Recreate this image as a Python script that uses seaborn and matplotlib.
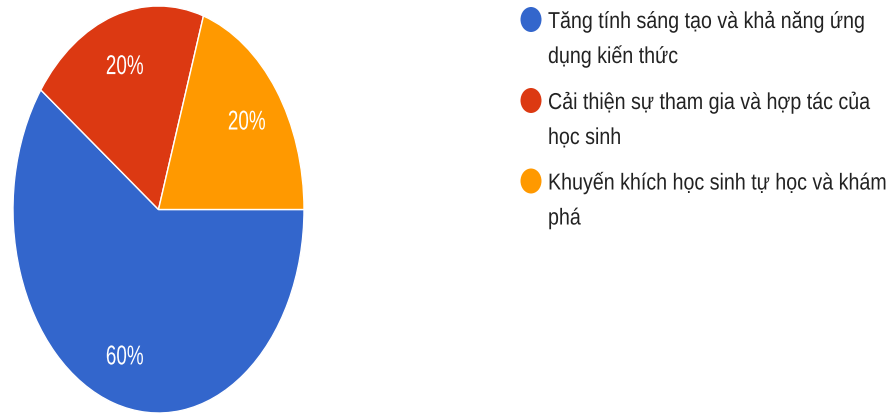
import matplotlib
matplotlib.use("Agg")
import matplotlib.pyplot as plt
import seaborn as sns
from matplotlib.patches import Ellipse
from matplotlib.patheffects import AbstractPathEffect
from matplotlib.transforms import Affine2D

# ---- data ----
categories = [
    "Tăng tính sáng tạo và khả năng ứng dụng kiến thức",
    "Cải thiện sự tham gia và hợp tác của học sinh",
    "Khuyến khích học sinh tự học và khám phá",
]
legend_lines = [
    ["Tăng tính sáng tạo và khả năng ứng", "dụng kiến thức"],
    ["Cải thiện sự tham gia và hợp tác của", "học sinh"],
    ["Khuyến khích học sinh tự học và khám", "phá"],
]
values = [60, 20, 20]
colors = ["#3366CC", "#DC3912", "#FF9900"]

sns.set_theme(style="white")
plt.rcParams["font.family"] = ["Liberation Sans", "DejaVu Sans"]


class VStretch(AbstractPathEffect):
    """Stretch glyphs vertically (glyph units: em = 100), optionally centring caps."""
    def __init__(self, sy, center=False):
        super().__init__()
        self.sy = sy
        self.shift = -35.8 if center else 0.0

    def draw_path(self, renderer, gc, tpath, affine, rgbFace=None):
        tr = Affine2D().translate(0, self.shift).scale(1, self.sy) + affine
        renderer.draw_path(gc, tpath, tr, rgbFace)


W, H = 894, 416
fig = plt.figure(figsize=(W / 100, H / 100), dpi=100)
fig.patch.set_facecolor("white")

# pie axes (ellipse as in the stretched reference)
ax = fig.add_axes([13 / W, 3 / H, 291 / W, 407 / H])
wedges, texts, autotexts = ax.pie(
    values,
    colors=colors,
    startangle=0,
    counterclock=False,
    autopct=lambda p: f"{p:.0f}%",
    pctdistance=0.75,
    wedgeprops=dict(edgecolor="white", linewidth=1.0),
    textprops=dict(color="white", fontsize=13.6),
)
for t in autotexts:
    t.set_path_effects([VStretch(1.44, center=True)])
    t.set_va("baseline")
ax.set_aspect("auto")
ax.set_xlim(-1, 1)
ax.set_ylim(-1, 1)
ax.axis("off")

# legend
circle_y = [19.5, 100.5, 181.0]
line_gap = 35.0
for i, lines in enumerate(legend_lines):
    cy = circle_y[i]
    fig.add_artist(Ellipse((531 / W, 1 - cy / H), 21 / W, 25 / H,
                           transform=fig.transFigure, facecolor=colors[i],
                           edgecolor="none"))
    base = cy + 8.5
    for j, line in enumerate(lines):
        t = fig.text(548 / W, 1 - (base + j * line_gap) / H, line,
                     ha="left", va="baseline", fontsize=14.15, color="#222222")
        t.set_path_effects([VStretch(1.17)])

fig.savefig("out.png", dpi=100, facecolor="white")
